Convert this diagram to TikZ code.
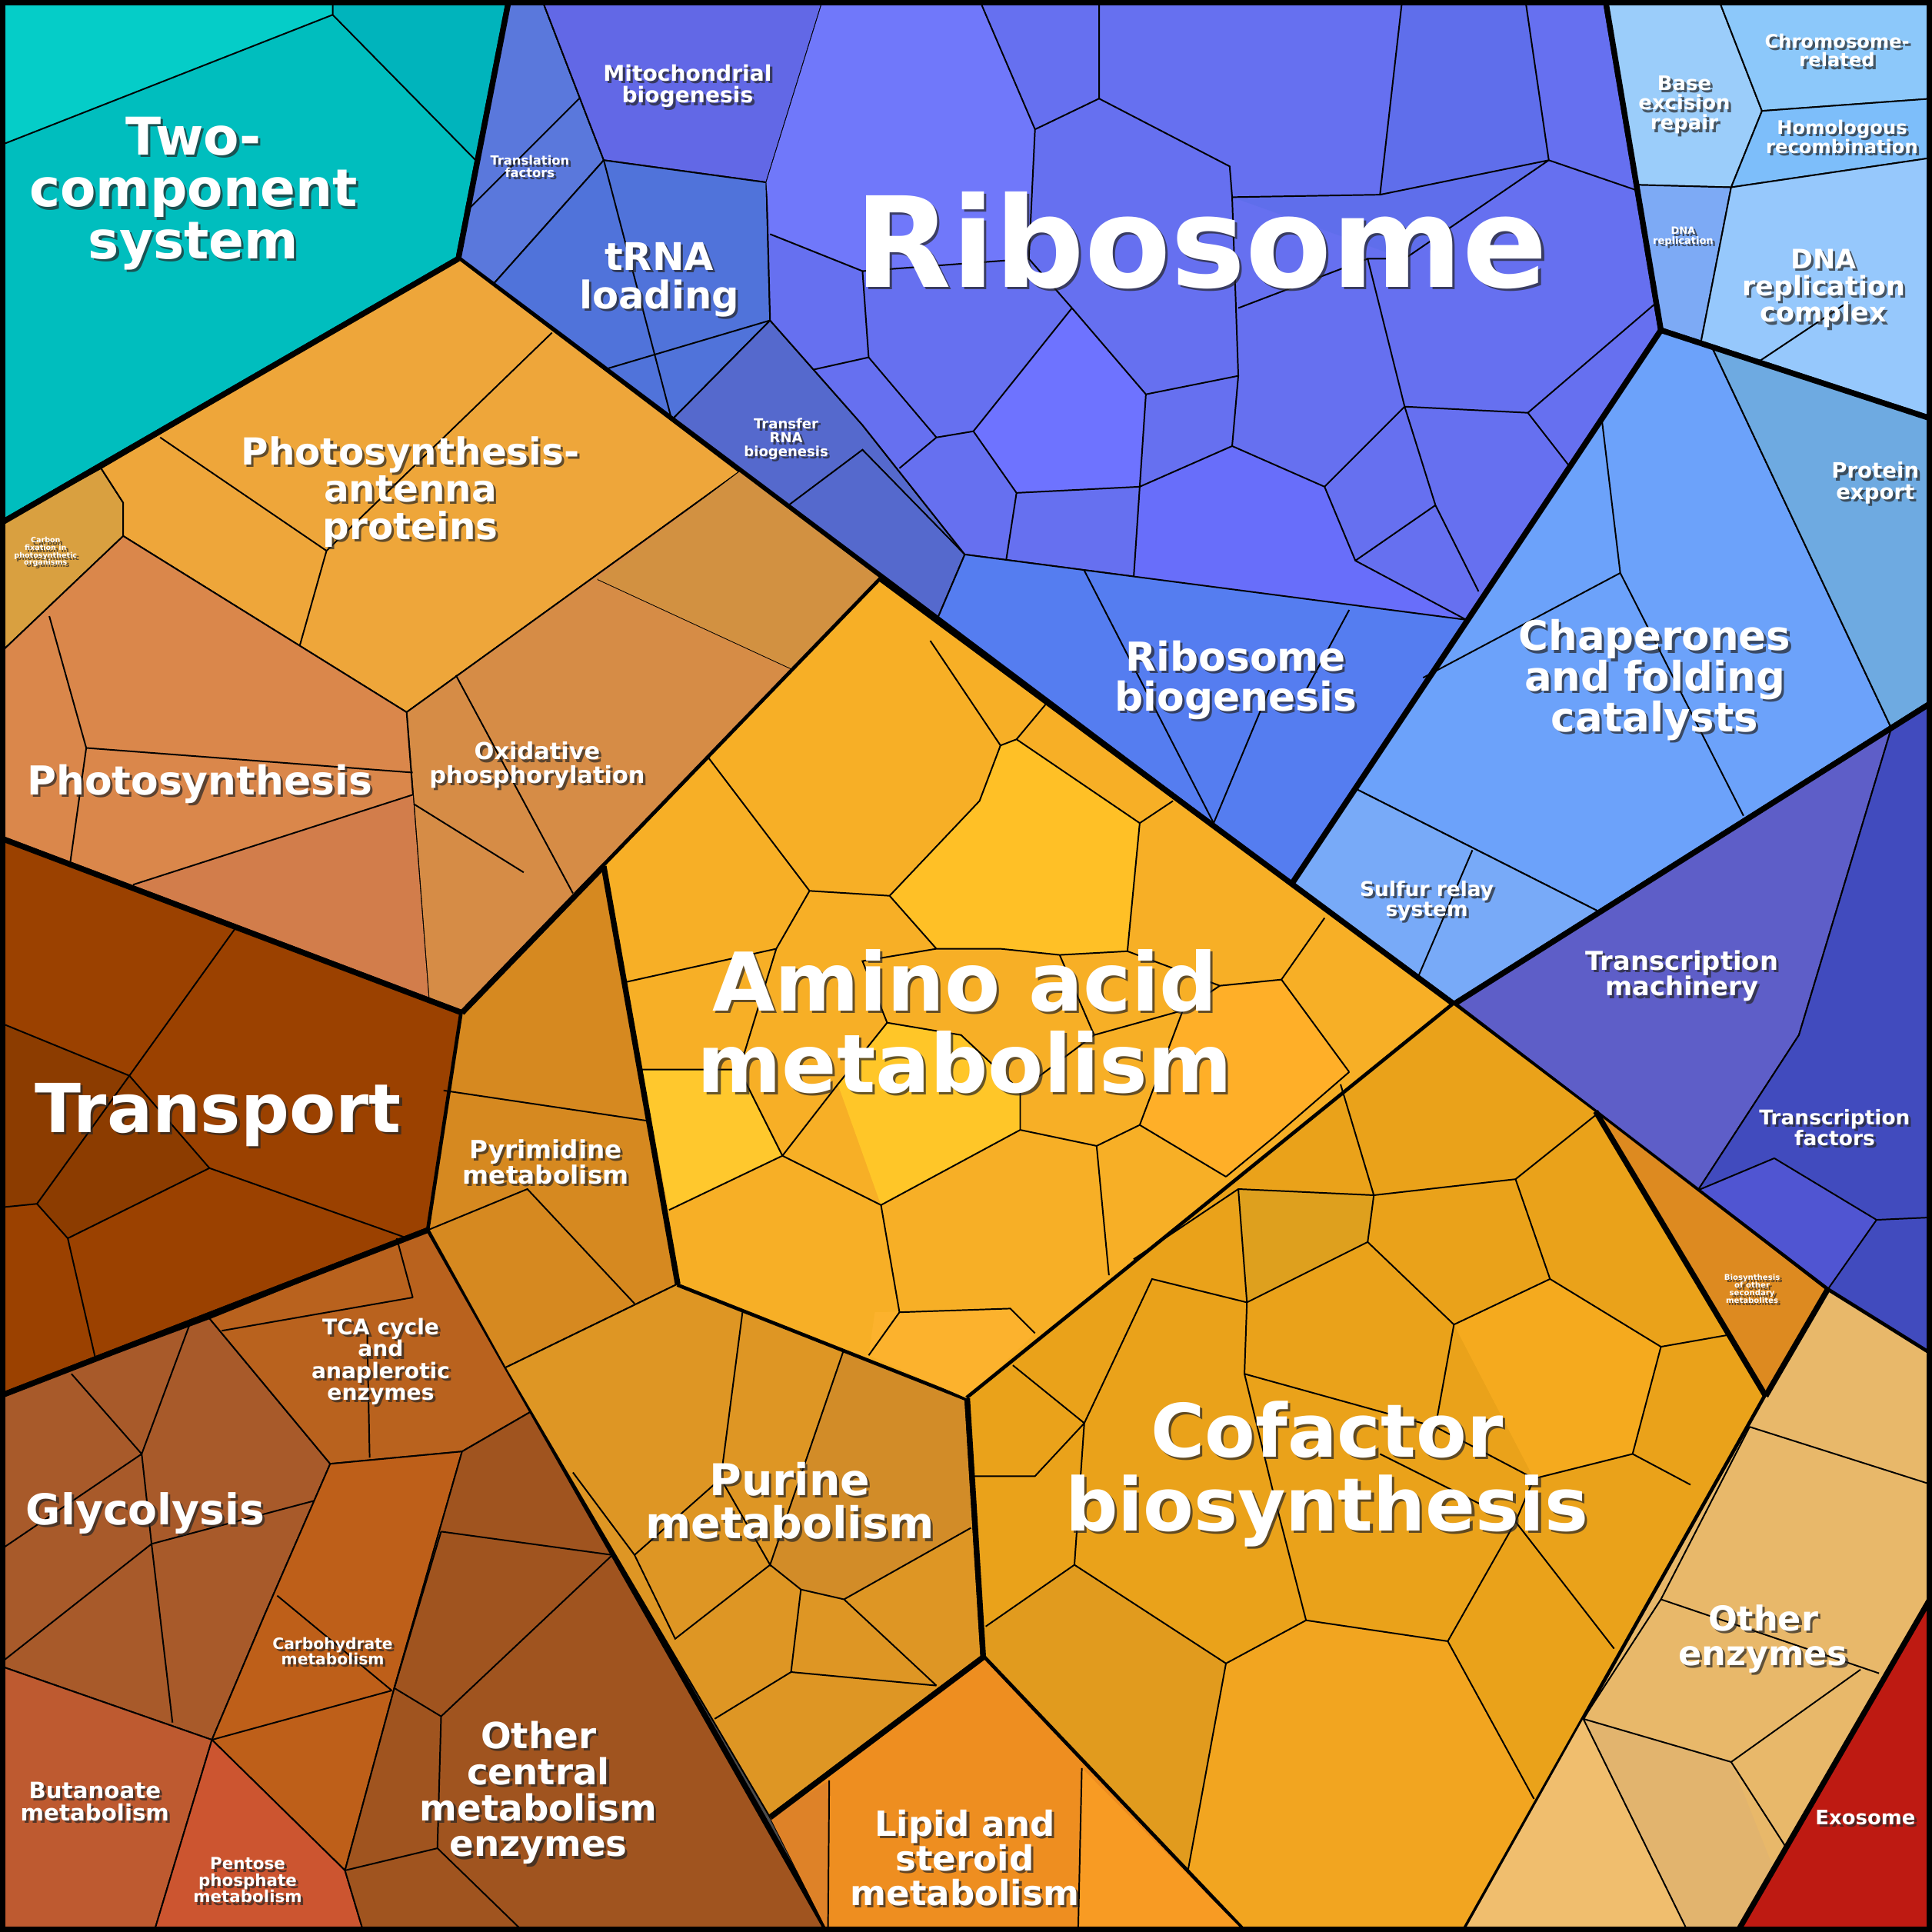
\documentclass[tikz,border=0pt]{standalone}
\usepackage{fontspec}
\setmainfont{DejaVu Sans}
\usetikzlibrary{calc}
\newcommand\lab[4]{%
\node[shd,font=\fontsize{#3}{#3}\selectfont\bfseries] at ($(#2)+(2,2)$) {#4};
\node[lbl,font=\fontsize{#3}{#3}\selectfont\bfseries] (#1) at (#2) {#4};}
\tikzset{
 reg/.style={draw=black,line width=1.3pt,line join=round},
 cell/.style={draw=black,line width=0.35pt},
 thin/.style={draw=black,line width=0.35pt},
 lbl/.style={text=white,align=center,inner sep=0pt},
 shd/.style={text=black!85,opacity=0.7,align=center,inner sep=0pt}
}
\begin{document}
\begin{tikzpicture}[x=0.01cm,y=-0.01cm]
\useasboundingbox (0,0) rectangle (1568,1568);
\fill[black!70] (0,0) rectangle (1568,1568);
% ---- two-component
\fill[fill={rgb,255:red,0;green,190;blue,190}] (0,0)--(413,0)--(372,210)--(0,425)--cycle;
\fill[fill={rgb,255:red,5;green,205;blue,200}] (0,0)--(270,0)--(270,12)--(0,118)--cycle;
\fill[fill={rgb,255:red,0;green,180;blue,188}] (270,0)--(413,0)--(386,130)--(270,12)--cycle;
\draw[thin] (0,118)--(270,12)--(270,0) (270,12)--(386,130);
\draw[reg] (0,0)--(413,0)--(372,210)--(0,425);
% ---- translation
\filldraw[cell,fill={rgb,255:red,90;green,120;blue,220}] (413,0)--(440,0)--(490,130)--(400,231)--(372,210)--cycle;
\draw[thin] (470,80)--(380,170);
\filldraw[cell,fill={rgb,255:red,98;green,104;blue,230}] (440,0)--(668,0)--(622,148)--(490,130)--cycle;
\filldraw[cell,fill={rgb,255:red,80;green,115;blue,218}] (400,231)--(490,130)--(622,148)--(625,260)--(545,341)--cycle;
\draw[thin] (490,130)--(545,340) (490,300)--(625,260);
\filldraw[cell,fill={rgb,255:red,85;green,105;blue,205}] (545,341)--(625,260)--(700,345)--(783,450)--(760,504)--cycle;
\draw[thin] (640,410)--(700,365)--(783,450);
\filldraw[cell,fill={rgb,255:red,102;green,112;blue,240}] (622,148)--(668,0)--(1303,0)--(1348,268)--(1190,503)--(783,450)--(700,345)--(625,260)--cycle;
\fill[fill={rgb,255:red,112;green,120;blue,250}] (622,148)--(668,0)--(795,0)--(840,105)--(835,210)--(700,220)--(625,190)--cycle;
\fill[fill={rgb,255:red,95;green,110;blue,235}] (1000,160)--(1120,158)--(1138,0)--(1238,0)--(1257,130)--(1140,210)--cycle;
\fill[fill={rgb,255:red,110;green,115;blue,255}] (790,350)--(870,250)--(930,320)--(925,395)--(825,400)--cycle;
\fill[fill={rgb,255:red,104;green,110;blue,250}] (925,395)--(1000,362)--(1075,395)--(1100,455)--(1190,503)--(920,470)--cycle;
\draw[thin] (795,0)--(840,105)--(892,80)--(892,0) (892,80)--(998,135)--(1000,160)--(1120,158)--(1138,0)
 (1120,158)--(1257,130)--(1238,0) (1257,130)--(1330,155)
 (840,105)--(835,210)--(870,250) (625,190)--(700,220)--(835,210)
 (700,220)--(705,290)--(760,355)--(790,350)--(870,250)--(930,320)--(1005,305)--(1000,160)
 (930,320)--(925,395)--(825,400)--(790,350) (825,400)--(815,465) (925,395)--(920,470)
 (1005,305)--(1000,362)--(1075,395)--(1100,455)--(1190,503) (1000,362)--(925,395)
 (1075,395)--(1140,330)--(1240,335)--(1345,245) (1140,330)--(1110,210)--(1140,210)--(1257,130)
 (1110,210)--(1005,250) (1240,335)--(1275,380) (1165,410)--(1140,330) (1100,455)--(1165,410)--(1200,480)
 (705,290)--(660,300) (760,355)--(730,380);
\filldraw[cell,fill={rgb,255:red,85;green,125;blue,240}] (783,450)--(1190,503)--(1048,718)--(760,504)--cycle;
\draw[thin] (880,463)--(985,668) (1095,495)--(1060,560) (985,668)--(1030,560);
\draw[reg] (413,0)--(372,210)--(1048,718)--(1348,268)--(1303,0);
% ---- DNA
\filldraw[cell,fill={rgb,255:red,155;green,205;blue,250}] (1303,0)--(1395,0)--(1430,90)--(1405,152)--(1328,150)--cycle;
\filldraw[cell,fill={rgb,255:red,140;green,200;blue,250}] (1395,0)--(1568,0)--(1568,80)--(1430,90)--cycle;
\filldraw[cell,fill={rgb,255:red,125;green,190;blue,250}] (1430,90)--(1568,80)--(1568,128)--(1405,152)--cycle;
\filldraw[cell,fill={rgb,255:red,125;green,170;blue,245}] (1328,150)--(1405,152)--(1380,280)--(1348,268)--cycle;
\filldraw[cell,fill={rgb,255:red,150;green,200;blue,252}] (1405,152)--(1568,128)--(1568,340)--(1380,280)--cycle;
\draw[thin] (1425,295)--(1500,245);
\draw[reg] (1303,0)--(1348,268)--(1568,340);
% ---- folding
\filldraw[cell,fill={rgb,255:red,108;green,162;blue,250}] (1100,640)--(1348,268)--(1390,283)--(1535,591)--(1300,741)--cycle;
\draw[thin] (1155,550)--(1315,465)--(1300,340) (1315,465)--(1415,662);
\filldraw[cell,fill={rgb,255:red,110;green,170;blue,225}] (1390,283)--(1568,340)--(1568,570)--(1535,591)--cycle;
\filldraw[cell,fill={rgb,255:red,120;green,170;blue,248}] (1048,718)--(1100,640)--(1300,741)--(1180,815)--cycle;
\draw[thin] (1195,690)--(1150,795);
\draw[reg] (1048,718)--(1348,268)--(1568,340) (1568,570)--(1180,815)--(1048,718);
% ---- transcription
\filldraw[cell,fill={rgb,255:red,94;green,94;blue,200}] (1180,815)--(1535,591)--(1460,840)--(1378,966)--cycle;
\filldraw[cell,fill={rgb,255:red,65;green,75;blue,190}] (1535,591)--(1568,570)--(1568,1100)--(1483,1047)--(1378,966)--(1460,840)--cycle;
\fill[fill={rgb,255:red,80;green,85;blue,210}] (1378,966)--(1440,940)--(1523,990)--(1483,1047)--cycle;
\draw[thin] (1440,940)--(1378,966) (1440,940)--(1523,990)--(1568,988) (1523,990)--(1483,1047);
\draw[reg] (1180,815)--(1568,570) (1180,815)--(1483,1047)--(1568,1100);
% ---- energy
\filldraw[cell,fill={rgb,255:red,217;green,160;blue,64}] (0,425)--(82,380)--(100,408)--(100,435)--(0,530)--cycle;
\filldraw[cell,fill={rgb,255:red,238;green,166;blue,58}] (82,380)--(372,210)--(600,383)--(330,578)--(100,435)--(100,408)--cycle;
\draw[thin] (130,355)--(265,447)--(243,525) (265,447)--(448,270);
\filldraw[cell,fill={rgb,255:red,214;green,140;blue,70}] (330,578)--(600,383)--(715,470)--(375,822)--(348,812)--cycle;
\draw[thin] (485,470)--(643,543) (370,548)--(465,725) (335,652)--(425,708);
\fill[fill={rgb,255:red,210;green,145;blue,65}] (485,470)--(600,383)--(715,470)--(643,543)--cycle;
\filldraw[cell,fill={rgb,255:red,218;green,135;blue,75}] (0,530)--(100,435)--(330,578)--(348,812)--(0,680)--cycle;
\fill[fill={rgb,255:red,210;green,125;blue,75}] (108,718)--(335,645)--(348,812)--cycle;
\draw[thin] (40,500)--(70,607)--(335,627) (70,607)--(57,700) (108,718)--(335,645);
\draw[reg] (0,425)--(372,210) (715,470)--(375,822)--(0,680);
% ---- transport
\filldraw[cell,fill={rgb,255:red,155;green,65;blue,0}] (0,680)--(375,822)--(348,998)--(0,1133)--cycle;
\fill[fill={rgb,255:red,140;green,60;blue,0}] (0,830)--(105,873)--(170,948)--(55,1005)--(30,977)--(0,980)--cycle;
\draw[thin] (0,830)--(105,873)--(192,752) (105,873)--(30,977)--(0,980) (30,977)--(55,1005)--(170,948)--(105,873)
 (170,948)--(345,1010) (55,1005)--(78,1105);
\draw[reg] (0,680)--(375,822)--(348,998)--(0,1133);
% ---- carbohydrate
\filldraw[cell,fill={rgb,255:red,168;green,90;blue,42}] (0,1133)--(170,1070)--(268,1188)--(215,1310)--(172,1412)--(0,1352)--cycle;
\draw[thin] (58,1115)--(115,1180)--(155,1072) (115,1180)--(0,1258) (115,1180)--(123,1253)--(0,1350) (123,1253)--(140,1398) (123,1253)--(255,1218);
\filldraw[cell,fill={rgb,255:red,185;green,98;blue,30}] (170,1070)--(348,998)--(432,1145)--(375,1178)--(268,1188)--cycle;
\draw[thin] (180,1080)--(335,1053) (335,1053)--(322,1005) (300,1183)--(298,1080);
\filldraw[cell,fill={rgb,255:red,190;green,95;blue,25}] (268,1188)--(375,1178)--(320,1370)--(280,1518)--(172,1412)--(215,1310)--cycle;
\draw[thin] (225,1295)--(318,1372) (172,1412)--(318,1372);
\filldraw[cell,fill={rgb,255:red,190;green,90;blue,48}] (0,1352)--(172,1412)--(125,1568)--(0,1568)--cycle;
\filldraw[cell,fill={rgb,255:red,204;green,85;blue,48}] (172,1412)--(280,1518)--(295,1568)--(125,1568)--cycle;
\filldraw[cell,fill={rgb,255:red,160;green,84;blue,31}] (375,1178)--(432,1145)--(672,1568)--(295,1568)--(280,1518)--(320,1370)--cycle;
\draw[thin] (358,1243)--(497,1262) (358,1243)--(320,1370)--(358,1393)--(497,1262) (358,1393)--(355,1500)--(425,1568) (280,1518)--(355,1500);
\draw[reg] (0,1133)--(348,998)--(672,1568);
% ---- nucleotide
\filldraw[cell,fill={rgb,255:red,214;green,137;blue,32}] (375,822)--(490,703)--(550,1042)--(410,1110)--(348,998)--cycle;
\draw[thin] (360,885)--(528,910) (348,998)--(428,965)--(515,1058);
\filldraw[cell,fill={rgb,255:red,222;green,150;blue,36}] (410,1110)--(550,1042)--(785,1135)--(798,1345)--(625,1475)--cycle;
\fill[fill={rgb,255:red,210;green,140;blue,40}] (685,1095)--(785,1135)--(788,1240)--(685,1298)--(650,1290)--(625,1270)--cycle;
\draw[thin] (603,1062)--(585,1200)--(625,1270)--(685,1095) (585,1200)--(515,1262)--(548,1330)--(625,1270)
 (625,1270)--(650,1290)--(685,1298)--(788,1240) (650,1290)--(642,1357)--(580,1395) (642,1357)--(760,1368) (685,1298)--(760,1368) (465,1195)--(515,1262);
\draw[reg] (375,822)--(490,703) (550,1042)--(785,1135)--(798,1345)--(625,1475);
% ---- amino acid
\filldraw[cell,fill={rgb,255:red,247;green,175;blue,38}] (715,470)--(1180,815)--(785,1135)--(550,1042)--(490,703)--cycle;
\fill[fill={rgb,255:red,255;green,192;blue,38}] (722,727)--(795,650)--(812,605)--(825,600)--(925,668)--(915,772)--(860,775)--(812,770)--(760,770)--cycle;
\fill[fill={rgb,255:red,255;green,198;blue,40}] (680,880)--(720,830)--(780,840)--(828,885)--(828,917)--(715,978)--cycle;
\fill[fill={rgb,255:red,255;green,200;blue,45}] (520,868)--(600,868)--(635,938)--(543,982)--cycle;
\fill[fill={rgb,255:red,255;green,175;blue,40}] (990,800)--(1040,795)--(1095,870)--(1035,922)--(995,955)--(925,913)--(960,820)--cycle;
\fill[fill={rgb,255:red,252;green,178;blue,45}] (710,1065)--(820,1062)--(840,1082)--(785,1135)--(705,1100)--cycle;
\draw[thin] (490,703)--(575,615) (575,615)--(657,723)--(722,727)--(795,650)--(812,605)--(755,520)
 (812,605)--(825,600)--(850,570) (825,600)--(925,668)--(915,772)--(860,775)--(812,770)--(760,770)--(722,727)
 (925,668)--(952,650) (915,772)--(990,800)--(1040,795)--(1095,870) (990,800)--(960,820)--(925,913)--(995,955)
 (1040,795)--(1075,745) (960,820)--(888,840)--(860,775) (888,840)--(828,885)--(780,840)--(720,830)--(680,880)
 (657,723)--(630,770)--(508,797) (630,770)--(600,868)--(520,868) (600,868)--(635,938)--(543,982)
 (635,938)--(680,880) (635,938)--(715,978)--(828,917)--(828,885) (715,978)--(730,1065)--(820,1062)--(840,1082)
 (730,1065)--(705,1100) (828,917)--(890,930)--(925,913) (890,930)--(900,1035) (720,830)--(700,780)--(760,770)
 (1035,922)--(995,955) (1035,922)--(1095,870);
\draw[reg] (715,470)--(1180,815)--(785,1135) (550,1042)--(490,703);
% ---- cofactor
\filldraw[cell,fill={rgb,255:red,234;green,162;blue,26}] (785,1135)--(1180,815)--(1295,902)--(1433,1133)--(1188,1568)--(1010,1568)--(798,1345)--cycle;
\fill[fill={rgb,255:red,222;green,160;blue,30}] (1005,965)--(1115,970)--(1110,1008)--(1012,1057)--cycle;
\fill[fill={rgb,255:red,245;green,170;blue,30}] (1180,1075)--(1258,1038)--(1348,1093)--(1325,1180)--(1245,1200)--cycle;
\fill[fill={rgb,255:red,242;green,165;blue,32}] (955,1568)--(995,1350)--(1060,1315)--(1175,1332)--(1245,1460)--(1188,1568)--cycle;
\fill[fill={rgb,255:red,225;green,155;blue,30}] (798,1345)--(800,1320)--(872,1270)--(995,1350)--(955,1568)--(1010,1568)--cycle;
\draw[thin] (920,1022)--(1005,965)--(1115,970)--(1110,1008)--(1012,1057)--(1005,965)
 (1115,970)--(1088,880) (1115,970)--(1230,957)--(1258,1038)--(1180,1075)--(1110,1008)
 (1230,957)--(1295,905) (1258,1038)--(1348,1093)--(1325,1180) (1348,1093)--(1405,1083)
 (1180,1075)--(1165,1158)--(1245,1200)--(1325,1180)--(1372,1205)
 (1012,1057)--(1010,1115)--(1165,1158) (1010,1115)--(1035,1218)--(1060,1315)
 (1060,1315)--(1175,1332)--(1245,1460) (1175,1332)--(1230,1235) (1060,1315)--(995,1350)--(955,1568)
 (1245,1200)--(1230,1235)--(1310,1338) (1230,1235)--(1120,1180)
 (995,1350)--(872,1270)--(880,1155)--(935,1038)--(1012,1057) (880,1155)--(822,1108)
 (872,1270)--(800,1320) (880,1155)--(840,1198)--(790,1198);
\filldraw[cell,fill={rgb,255:red,221;green,138;blue,32}] (1295,902)--(1483,1047)--(1433,1133)--cycle;
\draw[reg] (785,1135)--(798,1345)--(1010,1568) (1295,902)--(1433,1133)--(1188,1568);
% ---- lipid
\filldraw[cell,fill={rgb,255:red,238;green,142;blue,32}] (625,1475)--(798,1345)--(1010,1568)--(672,1568)--cycle;
\fill[fill={rgb,255:red,248;green,155;blue,35}] (878,1435)--(1010,1568)--(875,1568)--cycle;
\fill[fill={rgb,255:red,222;green,130;blue,40}] (625,1475)--(673,1445)--(672,1568)--cycle;
\draw[thin] (673,1445)--(672,1568) (878,1435)--(875,1568);
\draw[reg] (625,1475)--(798,1345);
% ---- other enzymes
\filldraw[cell,fill={rgb,255:red,232;green,184;blue,106}] (1433,1133)--(1483,1047)--(1568,1100)--(1568,1295)--(1410,1568)--(1188,1568)--cycle;
\fill[fill={rgb,255:red,240;green,190;blue,110}] (1188,1568)--(1285,1395)--(1370,1568)--cycle;
\fill[fill={rgb,255:red,226;green,180;blue,110}] (1285,1395)--(1405,1430)--(1460,1568)--(1370,1568)--cycle;
\draw[thin] (1420,1158)--(1568,1205) (1420,1158)--(1348,1298)--(1525,1358) (1285,1395)--(1348,1298) (1285,1395)--(1370,1568)
 (1285,1395)--(1405,1430)--(1510,1355) (1405,1430)--(1450,1500);
\filldraw[cell,fill={rgb,255:red,190;green,26;blue,18}] (1568,1295)--(1568,1568)--(1410,1568)--cycle;
\draw[reg] (1433,1133)--(1483,1047) (1568,1295)--(1410,1568);
% frame
\draw[line width=2.6pt] (0,0) rectangle (1568,1568);
% ---- labels
\lab{ribo}{975,195}{29}{Ribosome}
\lab{twoc}{157,157}{12}{Two-\\component\\system}
\lab{trna}{535,227}{8.8}{tRNA\\loading}
\lab{mito}{558,70}{5}{Mitochondrial\\biogenesis}
\lab{tf}{430,135}{2.9}{Translation\\factors}
\lab{trb}{638,356}{3.2}{Transfer\\RNA\\biogenesis}
\lab{rbg}{1003,552}{9.2}{Ribosome\\biogenesis}
\lab{ber}{1367,85}{4.6}{Base\\excision\\repair}
\lab{chr}{1491,41}{4.3}{Chromosome-\\related}
\lab{hom}{1495,111}{4.3}{Homologous\\recombination}
\lab{dnar}{1366,192}{2.3}{DNA\\replication}
\lab{dnac}{1480,234}{6.2}{DNA\\replication\\complex}
\lab{pex}{1522,392}{4.9}{Protein\\export}
\lab{chap}{1343,552}{9.4}{Chaperones\\and folding\\catalysts}
\lab{sulf}{1158,731}{4.7}{Sulfur relay\\system}
\lab{tm}{1365,792}{6}{Transcription\\machinery}
\lab{tfac}{1489,915}{4.7}{Transcription\\factors}
\lab{cfix}{37,448}{1.7}{Carbon\\fixation in\\photosynthetic\\organisms}
\lab{ant}{333,399}{8.6}{Photosynthesis-\\antenna\\proteins}
\lab{ps}{162,636}{9.2}{Photosynthesis}
\lab{ox}{436,621}{5.4}{Oxidative\\phosphorylation}
\lab{tr}{177,905}{15.6}{Transport}
\lab{aa}{783,829}{18.7}{Amino acid\\metabolism}
\lab{pyr}{443,943}{5.8}{Pyrimidine\\metabolism}
\lab{pur}{641,1218}{10.1}{Purine\\metabolism}
\lab{cof}{1077,1196}{17}{Cofactor\\biosynthesis}
\lab{bos}{1422,1046}{1.8}{Biosynthesis\\of other\\secondary\\metabolites}
\lab{oe}{1431,1330}{7.9}{Other\\enzymes}
\lab{exo}{1514,1475}{4.6}{Exosome}
\lab{lip}{783,1508}{8}{Lipid and\\steroid\\metabolism}
\lab{tca}{309,1105}{5}{TCA cycle\\and\\anaplerotic\\enzymes}
\lab{gly}{118,1228}{9.8}{Glycolysis}
\lab{carb}{270,1340}{3.6}{Carbohydrate\\metabolism}
\lab{but}{77,1462}{5.2}{Butanoate\\metabolism}
\lab{pent}{201,1526}{3.8}{Pentose\\phosphate\\metabolism}
\lab{ocm}{437,1455}{8.3}{Other\\central\\metabolism\\enzymes}
\end{tikzpicture}
\end{document}
